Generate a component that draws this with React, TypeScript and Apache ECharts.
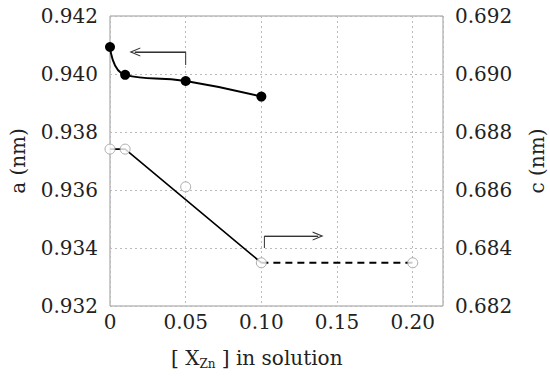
import React, { useEffect, useRef } from "react";
import * as echarts from "echarts";

const xA = [0, 0.01, 0.05, 0.1];
const aValues = [0.94093, 0.93997, 0.93976, 0.93922];
const xC = [0, 0.01, 0.05, 0.1, 0.2];
const cValues = [0.68741, 0.68741, 0.68611, 0.68349, 0.68349];
const cSolidX = [0, 0.01, 0.1];
const cSolidY = [0.68741, 0.68741, 0.68349];
const cDashX = [0.1, 0.2];
const cDashY = [0.68349, 0.68349];
const arrowAX = [0.05, 0.05, 0.0164];
const arrowAY = [0.94031, 0.94076, 0.94076];
const arrowCX = [0.102, 0.102, 0.1375];
const arrowCY = [0.684, 0.68441, 0.68441];
const leftTicks = [0.932, 0.942];
const rightTicks = [0.682, 0.692];
const xRange = [0, 0.22];

const FONT = "DejaVu Serif";
const FS = 20;
const zip = (xs: number[], ys: number[]) => xs.map((x, i) => [x, ys[i]]);
const CHEVRON = "path://M0,10 L5,0 L10,10 L8.8,10 L5,2.6 L1.2,10 Z";

function arrowSeries(xs: number[], ys: number[], yIndex: number) {
  const pts = zip(xs, ys);
  return {
    type: "line",
    yAxisIndex: yIndex,
    data: pts,
    symbol: "none",
    silent: true,
    lineStyle: { color: "#333", width: 1 },
    z: 3,
    markLine: {
      silent: true,
      symbol: ["none", CHEVRON],
      symbolSize: [9, 11],
      label: { show: false },
      lineStyle: { color: "#333", width: 1, type: "solid" },
      data: [[{ coord: pts[1] }, { coord: pts[2] }]],
    },
  };
}

export default function App() {
  const ref = useRef<HTMLDivElement>(null);
  useEffect(() => {
    const chart = echarts.init(ref.current!, null, { renderer: "svg" });
    const label = { fontFamily: FONT, fontSize: FS, color: "#222" };
    const splitLine = { show: true, lineStyle: { color: "#bbb", type: [2, 3], width: 1 } };
    chart.setOption({
      animation: false,
      backgroundColor: "#fff",
      textStyle: { fontFamily: FONT },
      grid: {
        left: 110, right: 107, top: 16, bottom: 73,
        containLabel: false, outerBoundsMode: "none",
        show: true, borderColor: "#999", borderWidth: 1,
      },
      xAxis: {
        type: "value",
        min: xRange[0],
        max: xRange[1],
        interval: 0.05,
        axisLine: { show: false },
        axisTick: { show: false },
        splitLine,
        axisLabel: {
          ...label,
          margin: 6,
          formatter: (v: number) => (v === 0 ? "0" : v > 0.205 ? "" : v.toFixed(2)),
        },
      },
      yAxis: [
        {
          type: "value",
          min: leftTicks[0],
          max: leftTicks[1],
          interval: 0.002,
          name: "a (nm)",
          nameLocation: "middle",
          nameRotate: 90,
          nameGap: 82,
          nameTextStyle: { ...label },
          axisLine: { show: false },
          axisTick: { show: false },
          splitLine,
          axisLabel: { ...label, margin: 12, formatter: (v: number) => v.toFixed(3) },
        },
        {
          type: "value",
          min: rightTicks[0],
          max: rightTicks[1],
          interval: 0.002,
          position: "right",
          name: "c (nm)",
          nameLocation: "middle",
          nameRotate: 90,
          nameGap: 84,
          nameTextStyle: { ...label },
          axisLine: { show: false },
          axisTick: { show: false },
          splitLine: { show: false },
          axisLabel: { ...label, margin: 12, formatter: (v: number) => v.toFixed(3) },
        },
      ],
      graphic: [
        {
          type: "text",
          left: 171,
          top: 348,
          style: {
            text: "[ X{sub|Zn} ] in solution",
            fontFamily: FONT,
            fontSize: FS,
            fill: "#222",
            rich: {
              sub: { fontFamily: FONT, fontSize: 12, fill: "#222", padding: [12, 0, 0, 0] },
            },
          },
        },
      ],
      series: [
        {
          type: "line",
          yAxisIndex: 0,
          data: zip(xA, aValues),
          smooth: 0.5,
          symbol: "circle",
          symbolSize: 10,
          itemStyle: { color: "#000" },
          lineStyle: { color: "#000", width: 2 },
          z: 4,
        },
        {
          type: "line",
          yAxisIndex: 1,
          data: zip(cSolidX, cSolidY),
          symbol: "none",
          lineStyle: { color: "#000", width: 1.6 },
          z: 3,
        },
        {
          type: "line",
          yAxisIndex: 1,
          data: zip(cDashX, cDashY),
          symbol: "none",
          lineStyle: { color: "#000", width: 2, type: [7, 5] },
          z: 3,
        },
        {
          type: "scatter",
          yAxisIndex: 1,
          data: zip(xC, cValues),
          symbol: "circle",
          symbolSize: 10,
          itemStyle: { color: "#fff", borderColor: "#999", borderWidth: 1 },
          z: 5,
        },
        arrowSeries(arrowAX, arrowAY, 0),
        arrowSeries(arrowCX, arrowCY, 1),
      ],
    });
    return () => chart.dispose();
  }, []);
  return <div ref={ref} style={{ width: 550, height: 379, position: "absolute", left: 0, top: 0 }} />;
}
